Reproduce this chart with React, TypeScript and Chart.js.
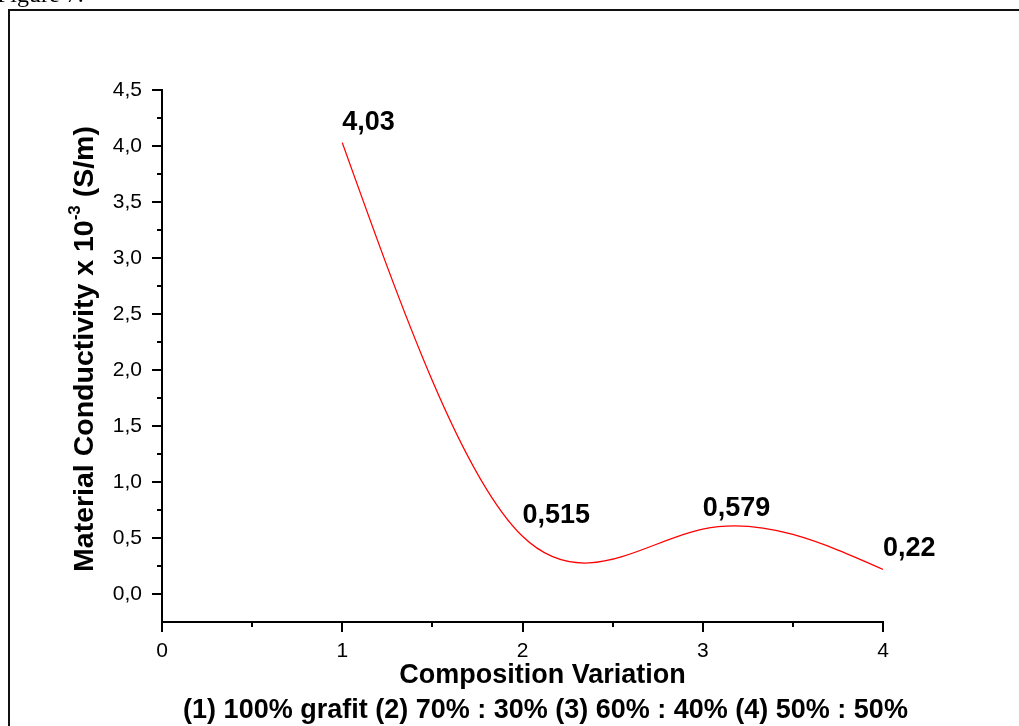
import { useEffect, useRef } from 'react';
import { Chart, registerables } from 'chart.js';

Chart.register(...registerables);

// ---------- data ----------
const compositionX = [1, 2, 3, 4];
const conductivity = [4.03, 0.515, 0.579, 0.22];
const xTickValues = [0, 1, 2, 3, 4];
const xMinorTickValues = [0.5, 1.5, 2.5, 3.5];
const yTickValues = [0, 0.5, 1, 1.5, 2, 2.5, 3, 3.5, 4, 4.5];
const yMinorTickValues = [0.25, 0.75, 1.25, 1.75, 2.25, 2.75, 3.25, 3.75, 4.25];
const xAxisTitle = 'Composition Variation';
const xAxisSubtitle = '(1) 100% grafit (2) 70% : 30% (3) 60% : 40% (4) 50% : 50%';
const yTitleMain = 'Material Conductivity x 10';
const yTitleSup = '-3';
const yTitleEnd = ' (S/m)';
const figureCaption = 'Figure 7.';

const SANS = '"Liberation Sans", Arial, sans-serif';
const SERIF = '"Liberation Serif", "Times New Roman", serif';

const fmt = (v: number) => String(v).replace('.', ',');

// natural cubic spline control points (Origin-style "Spline" line)
const naturalSplinePlugin = {
  id: 'naturalSpline',
  beforeDatasetsDraw(chart: any) {
    chart.getSortedVisibleDatasetMetas().forEach((meta: any) => {
      const pts = meta.data;
      const n = pts.length;
      if (n < 3) return;
      const xs = pts.map((p: any) => p.x);
      const ys = pts.map((p: any) => p.y);
      const h: number[] = [];
      for (let i = 0; i < n - 1; i++) h[i] = xs[i + 1] - xs[i];
      const a: number[] = [], b: number[] = [], c: number[] = [], d: number[] = [];
      for (let i = 1; i < n - 1; i++) {
        a[i] = h[i - 1];
        b[i] = 2 * (h[i - 1] + h[i]);
        c[i] = h[i];
        d[i] = 6 * ((ys[i + 1] - ys[i]) / h[i] - (ys[i] - ys[i - 1]) / h[i - 1]);
      }
      for (let i = 2; i < n - 1; i++) {
        const w = a[i] / b[i - 1];
        b[i] -= w * c[i - 1];
        d[i] -= w * d[i - 1];
      }
      const M = new Array(n).fill(0);
      M[n - 2] = d[n - 2] / b[n - 2];
      for (let i = n - 3; i >= 1; i--) M[i] = (d[i] - c[i] * M[i + 1]) / b[i];
      for (let i = 0; i < n; i++) {
        let s: number;
        if (i < n - 1) s = (ys[i + 1] - ys[i]) / h[i] - (h[i] * (2 * M[i] + M[i + 1])) / 6;
        else s = (ys[i] - ys[i - 1]) / h[i - 1] + (h[i - 1] * (M[i - 1] + 2 * M[i])) / 6;
        const p = pts[i];
        const hp = i > 0 ? h[i - 1] : 0;
        const hn = i < n - 1 ? h[i] : 0;
        p.cp1x = xs[i] - hp / 3;
        p.cp1y = ys[i] - (s * hp) / 3;
        p.cp2x = xs[i] + hn / 3;
        p.cp2y = ys[i] + (s * hn) / 3;
      }
      meta.dataset._pointsUpdated = true;
      meta.dataset._path = undefined;
    });
  },
};

const decorPlugin = {
  id: 'decor',
  afterDatasetsDraw(chart: any) {
    const ctx = chart.ctx;
    const meta = chart.getDatasetMeta(0);
    ctx.save();
    ctx.fillStyle = '#000';
    ctx.font = `bold 27px ${SANS}`;
    ctx.textAlign = 'left';
    ctx.textBaseline = 'alphabetic';
    meta.data.forEach((p: any, i: number) => {
      ctx.fillText(fmt(conductivity[i]), p.x, p.y - 13);
    });
    ctx.restore();
  },
  afterDraw(chart: any) {
    const ctx = chart.ctx;
    const area = chart.chartArea;
    const xs = chart.scales.x;
    const ys = chart.scales.y;
    ctx.save();
    // minor ticks
    ctx.strokeStyle = '#000';
    ctx.lineWidth = 2;
    ctx.beginPath();
    yMinorTickValues.forEach((v) => {
      const y = Math.round(ys.getPixelForValue(v));
      ctx.moveTo(area.left - 5, y);
      ctx.lineTo(area.left, y);
    });
    xMinorTickValues.forEach((v) => {
      const x = Math.round(xs.getPixelForValue(v));
      ctx.moveTo(x, area.bottom);
      ctx.lineTo(x, area.bottom + 5);
    });
    ctx.stroke();

    // x titles
    ctx.fillStyle = '#000';
    ctx.textAlign = 'center';
    ctx.textBaseline = 'alphabetic';
    ctx.font = `bold 27px ${SANS}`;
    const cx = (area.left + area.right) / 2;
    ctx.fillText(xAxisTitle, cx + 20, 683);
    ctx.fillText(xAxisSubtitle, cx + 23, 718);

    // y title (rotated, with superscript)
    ctx.save();
    ctx.translate(93, 349);
    ctx.rotate(-Math.PI / 2);
    ctx.textAlign = 'left';
    const mainFont = `bold 28.5px ${SANS}`;
    const supFont = `bold 17px ${SANS}`;
    ctx.font = mainFont;
    const w1 = ctx.measureText(yTitleMain).width;
    const w3 = ctx.measureText(yTitleEnd).width;
    ctx.font = supFont;
    const w2 = ctx.measureText(yTitleSup).width;
    let x0 = -(w1 + w2 + w3) / 2;
    ctx.font = mainFont;
    ctx.fillText(yTitleMain, x0, 0);
    x0 += w1;
    ctx.font = supFont;
    ctx.fillText(yTitleSup, x0, -13);
    x0 += w2;
    ctx.font = mainFont;
    ctx.fillText(yTitleEnd, x0, 0);
    ctx.restore();

    // outer frame
    ctx.strokeStyle = '#111';
    ctx.lineWidth = 2;
    ctx.strokeRect(9, 10, 2000, 2000);

    // figure caption (cut off at top)
    ctx.fillStyle = '#000';
    ctx.textAlign = 'left';
    ctx.font = `24px ${SERIF}`;
    ctx.fillText(figureCaption, -3, 2);
    ctx.restore();
  },
};

export default function App() {
  const canvasRef = useRef<HTMLCanvasElement | null>(null);

  useEffect(() => {
    const canvas = canvasRef.current;
    if (!canvas) return;
    const chart = new Chart(canvas, {
      type: 'line',
      data: {
        datasets: [
          {
            data: compositionX.map((x, i) => ({ x, y: conductivity[i] })),
            borderColor: '#ff0000',
            borderWidth: 1.3,
            pointRadius: 0,
            tension: 0.4,
            fill: false,
          },
        ],
      },
      options: {
        animation: false,
        responsive: false,
        maintainAspectRatio: false,
        layout: { padding: { left: 0, top: 90, right: 136, bottom: 0 } },
        plugins: {
          legend: { display: false },
          tooltip: { enabled: false },
        },
        scales: {
          x: {
            type: 'linear',
            min: 0,
            max: 4,
            afterBuildTicks: (s: any) => {
              s.ticks = xTickValues.map((v) => ({ value: v }));
            },
            afterFit: (s: any) => {
              s.height = 104;
            },
            ticks: {
              autoSkip: false,
              maxRotation: 0,
              padding: 7,
              color: '#000',
              font: { family: SANS, size: 21 },
              callback: (v: any) => String(v),
            },
            grid: {
              drawOnChartArea: false,
              drawTicks: true,
              tickLength: 10,
              color: '#000',
              lineWidth: 2,
            },
            border: { display: true, color: '#000', width: 2 },
          },
          y: {
            type: 'linear',
            min: -0.25,
            max: 4.5,
            afterBuildTicks: (s: any) => {
              s.ticks = yTickValues.map((v) => ({ value: v }));
            },
            afterFit: (s: any) => {
              s.width = 162;
            },
            ticks: {
              autoSkip: false,
              padding: 10,
              color: '#000',
              font: { family: SANS, size: 21 },
              callback: (v: any) => Number(v).toFixed(1).replace('.', ','),
            },
            grid: {
              drawOnChartArea: false,
              drawTicks: true,
              tickLength: 10,
              color: '#000',
              lineWidth: 2,
            },
            border: { display: true, color: '#000', width: 2 },
          },
        },
      },
      plugins: [naturalSplinePlugin, decorPlugin],
    } as any);
    return () => chart.destroy();
  }, []);

  return (
    <div style={{ position: 'absolute', left: 0, top: 0, width: 1019, height: 726, background: '#fff' }}>
      <canvas ref={canvasRef} width={1019} height={726} style={{ display: 'block' }} />
    </div>
  );
}
